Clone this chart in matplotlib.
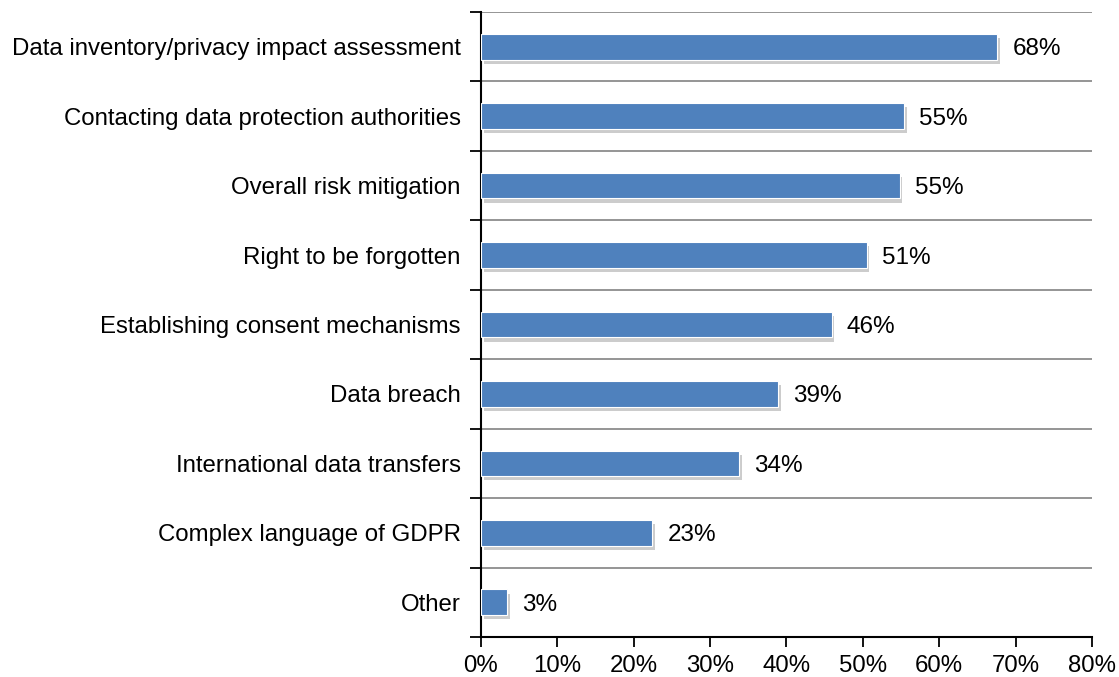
import matplotlib.pyplot as plt
import matplotlib.patheffects as pe
import numpy as np

plt.rcParams['font.family'] = ['Liberation Sans', 'DejaVu Sans']

categories = ["Data inventory/privacy impact assessment",
              "Contacting data protection authorities",
              "Overall risk mitigation",
              "Right to be forgotten",
              "Establishing consent mechanisms",
              "Data breach",
              "International data transfers",
              "Complex language of GDPR",
              "Other"]
values = [67.6, 55.4, 54.8, 50.5, 45.9, 38.9, 33.8, 22.4, 3.4]
labels = ["68%", "55%", "55%", "51%", "46%", "39%", "34%", "23%", "3%"]
xticks = [0, 10, 20, 30, 40, 50, 60, 70, 80]

fig = plt.figure(figsize=(11.19, 6.77), dpi=100)
ax = fig.add_axes([0.4298, 0.0591, 0.5461, 0.9232])

n = len(categories)
ypos = np.arange(n)[::-1]
bars = ax.barh(ypos, values, height=0.37, color='#4F81BD', edgecolor='white', linewidth=0.8, zorder=3)
for b in bars:
    b.set_path_effects([pe.SimplePatchShadow(offset=(2, -3), shadow_rgbFace='#808080', alpha=0.4), pe.Normal()])

for y, v, lab in zip(ypos, values, labels):
    ax.text(v + 2.0, y, lab, va='center_baseline', ha='left', fontsize=17.5)

ax.set_xlim(0, 80)
ax.set_ylim(-0.5, n - 0.5)

# gridlines between categories
for b in np.arange(0.5, n - 0.5 + 1, 1.0):
    ax.axhline(b, color='#8c8c8c', linewidth=1.3, zorder=1)

ax.set_yticks(ypos)
ax.set_yticklabels(categories, fontsize=17.3)
ax.tick_params(axis='y', which='major', length=0, pad=14.5)
ax.set_yticks(np.arange(-0.5, n, 1.0), minor=True)
ax.tick_params(axis='y', which='minor', length=8, width=1.3, direction='out')

ax.set_xticks(xticks)
ax.set_xticklabels([f"{t}%" for t in xticks], fontsize=17.3)
ax.tick_params(axis='x', length=7, width=1.3, direction='out', pad=6)

for s in ['top', 'right']:
    ax.spines[s].set_visible(False)
ax.spines['left'].set_linewidth(1.5)
ax.spines['bottom'].set_linewidth(1.5)

fig.savefig('out.png', dpi=100)
